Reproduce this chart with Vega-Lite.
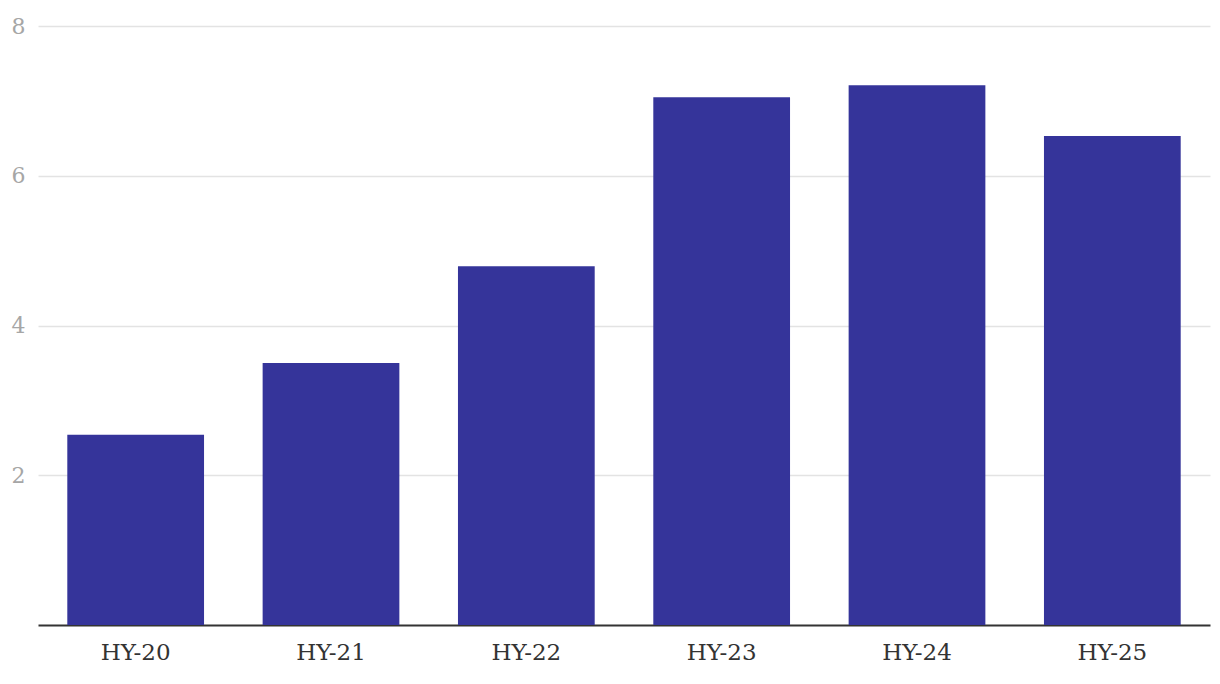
{
  "$schema": "https://vega.github.io/schema/vega-lite/v6.json",
  "width": 1172,
  "height": 599,
  "autosize": {"type": "none"},
  "padding": {"left": 38, "top": 26, "right": 10, "bottom": 59},
  "config": {"view": {"stroke": null}, "font": "DejaVu Serif"},
  "data": {"values": [
    {"period": "HY-20", "value": 2.54},
    {"period": "HY-21", "value": 3.50},
    {"period": "HY-22", "value": 4.79},
    {"period": "HY-23", "value": 7.05},
    {"period": "HY-24", "value": 7.21},
    {"period": "HY-25", "value": 6.53}
  ]},
  "mark": {"type": "bar", "color": "#35349a"},
  "encoding": {
    "x": {
      "field": "period", "type": "nominal", "sort": null,
      "scale": {"paddingInner": 0.3, "paddingOuter": 0.15},
      "axis": {"title": null, "labelAngle": 0, "ticks": false, "domainColor": "#333333", "domainWidth": 2,
               "labelFont": "DejaVu Serif", "labelFontSize": 23, "labelColor": "#333333", "labelPadding": 16}
    },
    "y": {
      "field": "value", "type": "quantitative",
      "scale": {"domain": [0, 8]},
      "axis": {"title": null, "values": [2, 4, 6, 8], "ticks": false, "domain": false, "gridColor": "#e3e3e3", "gridWidth": 1.5,
               "labelFont": "DejaVu Serif", "labelFontSize": 22, "labelColor": "#a6a6a6", "labelPadding": 13}
    }
  }
}
